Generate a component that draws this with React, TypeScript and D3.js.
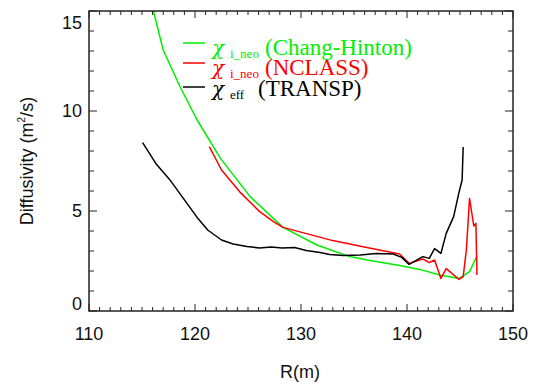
import React from "react";
import * as d3 from "d3";

const greenR = [115.8, 117.0, 118.6, 120.2, 122.4, 125.2, 128.3, 131.5, 134.6, 136.5, 139.3, 141.2, 143.1, 144.9, 145.9, 146.6];
const greenD = [15.6, 13.05, 11.2, 9.55, 7.63, 5.72, 4.18, 3.3, 2.72, 2.52, 2.27, 2.08, 1.8, 1.62, 1.97, 2.75];

const redR = [121.35, 122.5, 124.2, 126.1, 127.4, 128.3, 133.0, 136.2, 139.3, 140.2, 141.5, 142.1, 142.6, 143.2, 143.7, 144.9, 145.3, 145.6, 145.9, 146.3, 146.5, 146.6];
const redD = [8.22, 7.05, 5.97, 4.97, 4.47, 4.18, 3.52, 3.18, 2.85, 2.38, 2.6, 2.42, 2.55, 1.63, 2.12, 1.58, 1.72, 3.05, 5.63, 4.25, 4.38, 1.8];

const blackR = [115.06, 116.3, 117.6, 118.9, 120.2, 121.2, 122.5, 123.6, 124.9, 126.1, 127.2, 128.2, 129.4, 130.5, 131.8, 132.7, 134.0, 135.6, 137.1, 138.7, 139.5, 140.2, 141.5, 142.1, 142.6, 143.2, 143.7, 144.4, 144.9, 145.2, 145.3];
const blackD = [8.42, 7.38, 6.58, 5.63, 4.68, 4.05, 3.55, 3.35, 3.22, 3.15, 3.2, 3.15, 3.17, 3.02, 2.93, 2.82, 2.77, 2.8, 2.87, 2.85, 2.68, 2.33, 2.72, 2.63, 3.12, 2.88, 3.88, 4.72, 5.92, 6.55, 8.2];

const xTicks = [110, 120, 130, 140, 150];
const yTicks = [0, 5, 10, 15];

const series = [
  { r: greenR, d: greenD, color: "#00ee00", sym: "χ", sub: "i_neo", label: "(Chang-Hinton)" },
  { r: redR, d: redD, color: "#ff0000", sym: "χ", sub: "i_neo", label: "(NCLASS)" },
  { r: blackR, d: blackD, color: "#000000", sym: "χ", sub: "eff", label: "(TRANSP)" },
];

export default function App() {
  const W = 535, H = 392;
  const left = 89, right = 513, top = 11, bottom = 311;
  const x = d3.scaleLinear().domain([110, 150]).range([left, right]);
  const y = d3.scaleLinear().domain([0, 15]).range([bottom, top]);
  const line = d3.line<[number, number]>().x((p) => x(p[0])).y((p) => y(p[1]));
  const xMinor = d3.range(110, 151, 1);
  const yMinor = d3.range(0, 16, 1);
  const axisColor = "#222";
  const sans = "'Liberation Sans', Arial, Helvetica, sans-serif";
  const serif = "'Liberation Serif', 'Times New Roman', serif";
  const legendY = [43, 63, 87];
  const textY = [55, 75, 96];
  const labelX = [265, 265, 258];

  return (
    <svg width={W} height={H} style={{ position: "absolute", left: 0, top: 0, background: "#fff" }}>
      <defs>
        <clipPath id="plot">
          <rect x={left} y={top} width={right - left} height={bottom - top} />
        </clipPath>
      </defs>
      <g clipPath="url(#plot)">
        {series.map((s, i) => (
          <path
            key={i}
            d={line(s.r.map((v, j) => [v, s.d[j]] as [number, number])) || ""}
            fill="none"
            stroke={s.color}
            strokeWidth={1.5}
            strokeLinejoin="round"
          />
        ))}
      </g>
      <rect x={left} y={top} width={right - left} height={bottom - top} fill="none" stroke={axisColor} strokeWidth={1.5} />
      {xMinor.map((v) => {
        const major = v % 10 === 0;
        const len = major ? 7 : 4;
        return (
          <g key={"x" + v}>
            <line x1={x(v)} x2={x(v)} y1={bottom} y2={bottom - len} stroke={axisColor} strokeWidth={1} />
            <line x1={x(v)} x2={x(v)} y1={top} y2={top + len} stroke={axisColor} strokeWidth={1} />
          </g>
        );
      })}
      {yMinor.map((v) => {
        const major = v % 5 === 0;
        const len = major ? 8 : 5;
        return (
          <g key={"y" + v}>
            <line x1={left} x2={left + len} y1={y(v)} y2={y(v)} stroke={axisColor} strokeWidth={1} />
            <line x1={right} x2={right - len} y1={y(v)} y2={y(v)} stroke={axisColor} strokeWidth={1} />
          </g>
        );
      })}
      {xTicks.map((v) => (
        <text key={"xl" + v} x={x(v)} y={340} textAnchor="middle" fontFamily={sans} fontSize={18} fill="#111">
          {v}
        </text>
      ))}
      {yTicks.map((v, i) => {
        const off = i === 0 ? -1 : i === yTicks.length - 1 ? 18 : 6;
        return (
          <text key={"yl" + v} x={82} y={y(v) + off} textAnchor="end" fontFamily={sans} fontSize={18} fill="#111">
            {v}
          </text>
        );
      })}
      <text x={300} y={378} textAnchor="middle" fontFamily={sans} fontSize={18} fill="#111">
        R(m)
      </text>
      <text
        transform={`translate(33,161) rotate(-90)`}
        textAnchor="middle"
        fontFamily={sans}
        fontSize={18}
        fill="#111"
      >
        Diffusivity (m
        <tspan fontSize={10} dy={-8}>2</tspan>
        <tspan dy={8}>/s)</tspan>
      </text>
      {series.map((s, i) => (
        <g key={"lg" + i}>
          <line x1={183} x2={205} y1={legendY[i]} y2={legendY[i]} stroke={s.color} strokeWidth={1.5} />
          <text y={textY[i]} fill={s.color} fontFamily={serif}>
            <tspan x={212} fontFamily="'DejaVu Serif', serif" fontStyle="italic" fontSize={20}>
              {s.sym}
            </tspan>
            <tspan x={230} dy={3} fontSize={13}>
              {s.sub}
            </tspan>
            <tspan x={labelX[i]} dy={-3} fontSize={23}>
              {s.label}
            </tspan>
          </text>
        </g>
      ))}
    </svg>
  );
}
